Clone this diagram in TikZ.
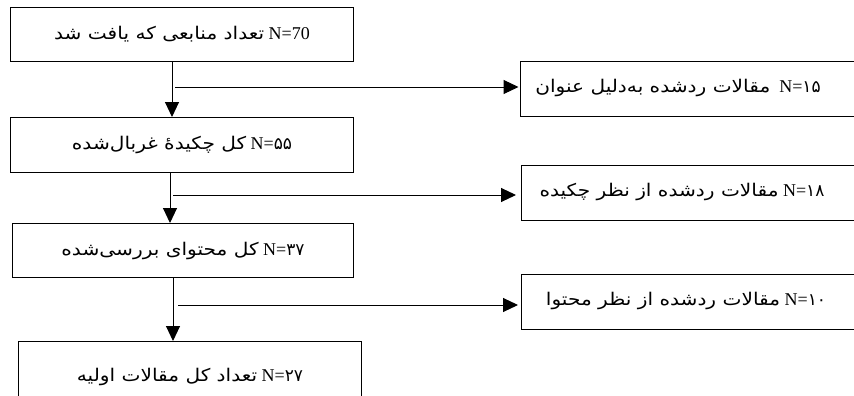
\documentclass[tikz,border=0pt]{standalone}
\usepackage{fontspec}
\setmainfont{Liberation Serif}
\newfontfamily\fa[Script=Arabic,FakeStretch=1.15]{DejaVu Sans}
\newfontfamily\fadig[Script=Arabic]{DejaVu Sans}
\TeXXeTstate=1
\usetikzlibrary{arrows.meta}
\newcommand{\faT}[1]{{\fa\fontsize{17.5}{20}\selectfont\beginR #1\endR}}
\newcommand{\faD}[1]{{\fadig\fontsize{17}{20}\selectfont #1}}
\begin{document}
\begin{tikzpicture}[x=1pt,y=-1pt,
  box/.style={draw, line width=1pt, rectangle, inner sep=0pt, anchor=north west, font=\fontsize{18}{20}\selectfont},
  txt/.style={font=\fontsize{18}{20}\selectfont, inner sep=0pt},
  arr/.style={line width=1pt, -{Triangle[width=14pt,length=15pt]}}]
\useasboundingbox (0,0) rectangle (854,396);
\clip (0,0) rectangle (854,396);
\fill[white] (0,0) rectangle (854,396);
% left column
\node[box, minimum width=343pt, minimum height=54pt] (b1) at (10,7)
  {\faT{تعداد منابعی که یافت شد} N=70};
\node[box, minimum width=343pt, minimum height=55pt] (b2) at (10,117)
  {\faT{کل چکیدهٔ غربال‌شده} N=\faD{۵۵}};
\node[box, minimum width=341pt, minimum height=54pt] (b3) at (12,223)
  {\faT{کل محتوای بررسی‌شده} N=\faD{۳۷}};
\node[box, minimum width=343pt, minimum height=70pt] (b4) at (18,341)
  {\faT{تعداد کل مقالات اولیه} N=\faD{۲۷}};
% right column
\node[box, minimum width=360pt, minimum height=55pt] (r1) at (520,61) {};
\node[box, minimum width=360pt, minimum height=55pt] (r2) at (521,165) {};
\node[box, minimum width=360pt, minimum height=55pt] (r3) at (521,274) {};
\node[txt] (t1) at (678,88)
  {\faT{مقالات ردشده به‌دلیل عنوان}\ \ N=\faD{۱۵}};
\node[txt] (t2) at (682,192)
  {\faT{مقالات ردشده از نظر چکیده} N=\faD{۱۸}};
\node[txt] (t3) at (686,301)
  {\faT{مقالات ردشده از نظر محتوا} N=\faD{۱۰}};
% vertical arrows
\coordinate (v1) at (172,0);
\coordinate (v2) at (170,0);
\coordinate (v3) at (173,0);
\draw[arr] (b1.south -| v1) -- (b2.north -| v1);
\draw[arr] (b2.south -| v2) -- (b3.north -| v2);
\draw[arr] (b3.south -| v3) -- (b4.north -| v3);
% branch arrows
\coordinate (s1) at (175,87);
\coordinate (s2) at (173,195);
\coordinate (s3) at (178,305);
\draw[arr, shorten >=1.5pt] (s1) -- (s1 -| r1.west);
\draw[arr, shorten >=5pt] (s2) -- (s2 -| r2.west);
\draw[arr, shorten >=3pt] (s3) -- (s3 -| r3.west);
\end{tikzpicture}
\end{document}
